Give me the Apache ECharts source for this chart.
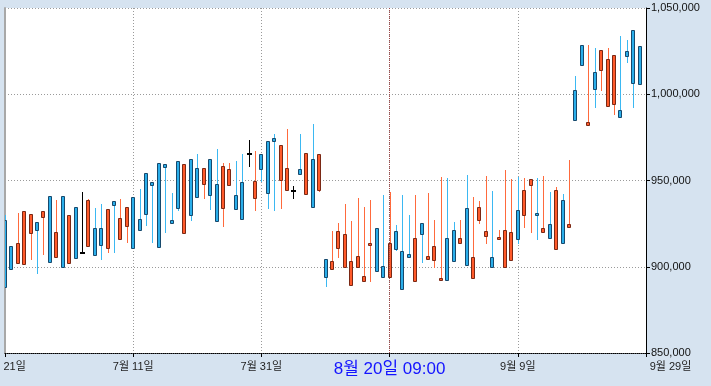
<!DOCTYPE html>
<html><head><meta charset="utf-8">
<script src="https://cdn.jsdelivr.net/npm/echarts@6/dist/echarts.min.js"></script>
<style>html,body{margin:0;padding:0;background:#d6e3f0}#c{width:711px;height:386px}</style>
</head><body><div id="c"></div><script>
// x axis: one category per day starting 6월 21일
const startYear = 2024, startMonth = 6, startDay = 21, dayCount = 101;
const labelEvery = 20;
const crosshairIndex = 60;
const crosshairLabel = '8월 20일 09:00';
const yMin = 850000, yMax = 1050000, yStep = 50000;

const opens = [927100,912000,902000,901400,919400,925800,928700,940800,905700,940800,
902000,934500,908100,911900,922300,922300,910700,937900,915900,923500,
940300,927700,954400,949100,960200,959600,927100,961100,919400,962300,
957100,947800,962600,947800,933900,947200,941400,949100,965100,939700,
965400,972900,974800,950500,944700,943700,956500,942000,962500,944500,
904300,898500,910900,899700,889300,899700,891600,912800,922300,900300,
894200,920700,909100,907200,891600,925200,904700,903900,892200,916500,
921300,913600,933900,893300,927100,918000,905500,916300,899700,903900,
932700,929800,947200,931000,920000,924600,910500,938500,922900,1002600,
1028400,982000,1012900,1013900,993000,994500,990700,1024900,1037100,1027800];
const closes = [888300,898500,913600,932300,930400,921300,932100,902600,920000,899700,
929800,905100,908100,938500,906600,912400,933300,935600,928100,934500,
910700,921100,930400,947200,911300,957700,925200,934200,959600,929800,
940300,957100,941400,926400,958200,956500,933300,927500,965100,949500,
956800,942600,973100,970400,957100,943700,953600,965800,934500,965200,
893900,903200,920600,918800,903200,906100,894500,913600,897400,893900,
913600,910500,886900,905800,916500,918800,906100,911900,893500,892300,
903200,916500,900900,905500,934800,920600,899700,917100,921100,920000,
915900,944300,951000,929800,922600,916900,944300,913600,924600,984900,
1017100,983700,1002900,1025500,1020600,1022600,986600,1022000,1006700,1005800];
const lows = [888300,898500,902000,901400,904700,896600,907400,902600,905700,899700,
902000,905100,908100,911900,906600,904700,908700,908700,915900,914500,
910700,921100,924400,914500,911300,920300,925200,932900,919400,927300,
940300,940000,933700,926400,923800,947200,933300,927500,958600,933100,
949900,934200,933100,934200,944700,940000,953600,942000,934500,943900,
889000,898500,905700,899700,889300,899700,891600,891900,897400,893900,
894200,909700,886900,905800,891600,902900,904700,900000,892200,892300,
903200,913600,900900,893300,925200,913600,899700,916300,899700,903900,
913900,922900,920000,916300,920000,916900,910500,913600,922900,984900,
1017100,982000,992800,1002600,993000,988700,986600,1018900,992800,1005800];
const highs = [930000,912000,931300,932300,930400,925800,932100,940800,938700,940800,
929800,934500,943300,939300,934100,936400,933300,937900,939300,934500,
940300,945100,954400,949100,960200,959600,942800,961100,959600,962300,
965400,957100,962600,968100,960300,960300,961300,965400,973500,967100,
965400,972900,977000,970400,979900,946800,977000,965800,982800,965200,
904300,920700,925400,936400,926500,939900,934600,938900,922300,941600,
943500,924200,941600,930000,941600,925200,942800,927100,951900,951300,
926000,927100,953200,940400,938100,952600,943900,921300,956100,950700,
952200,951300,951000,951300,952600,943300,946100,942200,961900,1010600,
1028400,1028600,1026800,1025500,1026800,1022600,1033800,1031500,1037100,1027800];

const categories = [];
for (let i = 0; i < dayCount; i++) {
  const d = new Date(startYear, startMonth - 1, startDay + i);
  categories.push((d.getMonth() + 1) + '월 ' + d.getDate() + '일');
}
const data = opens.map((o, i) => [i, o, closes[i], lows[i], highs[i]]);

const FONT = '"Liberation Sans", Arial, "Noto Sans CJK KR", sans-serif';
const styles = {
  up:   { fill: '#ff5a2a', border: '#7a2814', wick: '#ff6a3c' },
  down: { fill: '#2aaeea', border: '#17496c', wick: '#3bb8f2' },
  flat: { fill: '#000', border: '#000', wick: '#000' }
};

const chart = echarts.init(document.getElementById('c'), null, { renderer: 'canvas' });
chart.setOption({
  backgroundColor: '#d6e3f0',
  animation: false,
  textStyle: { fontFamily: FONT },
  axisPointer: { triggerOn: 'none' },
  grid: { left: 5, right: 65, top: 8, bottom: 33, show: true, backgroundColor: '#ffffff', borderWidth: 0,
    containLabel: false, outerBoundsMode: 'none' },
  xAxis: {
    type: 'category', data: categories, boundaryGap: false,
    axisLine: { lineStyle: { color: '#000', type: [1, 1] } },
    axisTick: { interval: (i) => i % labelEvery === 0, length: 4, lineStyle: { color: '#000' } },
    axisLabel: {
      interval: (i) => i % labelEvery === 0 && i !== crosshairIndex,
      margin: 8, fontSize: 11, color: '#222', fontFamily: FONT, hideOverlap: false,
      formatter: (v, i) => i === categories.length - 1 ? '{r|' + v + '}' : v,
      rich: { r: { padding: [0, 0, 0, 49], fontSize: 11, color: '#222', fontFamily: FONT } }
    },
    splitLine: { show: true, interval: (i) => i % labelEvery === 0, lineStyle: { color: '#9a9a9a', type: [1, 2] } },
    axisPointer: {
      show: true, value: crosshairIndex, status: 'show', type: 'line', triggerTooltip: false,
      lineStyle: { color: '#a04848', type: [1, 1], width: 1 },
      label: { show: true, formatter: () => crosshairLabel, color: '#1414ff', fontSize: 17, fontFamily: FONT,
        backgroundColor: 'transparent', padding: 0, margin: 8 }
    }
  },
  yAxis: [{
    type: 'value', position: 'right', min: yMin, max: yMax, interval: yStep,
    axisLine: { show: true, lineStyle: { color: '#000' } },
    axisTick: { show: true, length: 4, lineStyle: { color: '#000' } },
    axisLabel: { margin: 5, fontSize: 11, color: '#111', fontFamily: FONT },
    splitLine: { show: true, lineStyle: { color: '#9a9a9a', type: [1, 2] } }
  }, {
    type: 'value', position: 'left', min: yMin, max: yMax, interval: yStep,
    axisLine: { show: true, lineStyle: { color: '#a8a8a8', width: 2 } },
    axisTick: { show: false }, axisLabel: { show: false }, splitLine: { show: false }
  }],
  series: [{
    type: 'custom', clip: true, yAxisIndex: 0,
    encode: { x: 0, y: [1, 2, 3, 4] },
    data: data,
    renderItem: function (params, api) {
      const i = api.value(0), o = api.value(1), c = api.value(2), l = api.value(3), h = api.value(4);
      const po = api.coord([i, o]);
      const x = Math.round(po[0]);
      const yo = po[1], yc = api.coord([i, c])[1], yl = api.coord([i, l])[1], yh = api.coord([i, h])[1];
      const kind = c > o ? 'up' : (c < o ? 'down' : 'flat');
      const st = styles[kind];
      const children = [{
        type: 'line',
        shape: { x1: x + 0.5, y1: Math.round(yh), x2: x + 0.5, y2: Math.round(yl) + 1 },
        style: { stroke: st.wick, lineWidth: 1 }
      }];
      if (kind === 'flat') {
        children.push({ type: 'rect', shape: { x: x - 2, y: Math.round(yo) - 1, width: 5, height: 2 }, style: { fill: '#000' } });
      } else {
        const top = Math.round(Math.min(yo, yc)) + 0.5, bot = Math.round(Math.max(yo, yc)) + 0.5;
        children.push({ type: 'rect', shape: { x: x - 1.5, y: top, width: 3, height: Math.max(1, bot - top) },
          style: { fill: st.fill, stroke: st.border, lineWidth: 1 } });
      }
      return { type: 'group', children: children };
    }
  }]
});
</script></body></html>
